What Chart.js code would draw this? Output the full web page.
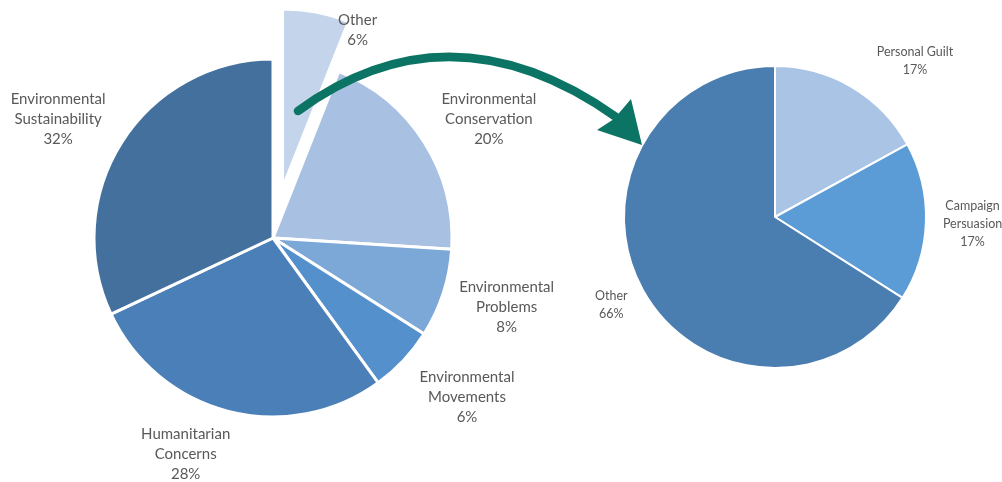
<!DOCTYPE html>
<html>
<head>
<meta charset="utf-8">
<script src="https://cdn.jsdelivr.net/npm/chart.js@4"></script>
<style>
  html, body { margin: 0; padding: 0; background: #fff; }
  #wrap { position: relative; width: 1002px; height: 482px; }
  #wrap canvas { position: absolute; left: 0; top: 0; }
</style>
</head>
<body>
<div id="wrap">
  <canvas id="mainPie" width="1002" height="482"></canvas>
  <canvas id="otherPie" width="1002" height="482"></canvas>
</div>
<script>
// left pie: reasons
const mainCategories = [
  ['Other'],
  ['Environmental', 'Conservation'],
  ['Environmental', 'Problems'],
  ['Environmental', 'Movements'],
  ['Humanitarian', 'Concerns'],
  ['Environmental', 'Sustainability']
];
const mainValues = [6, 20, 8, 6, 28, 32];
const mainColors = ['#c3d4eb', '#a8c1e3', '#7ca8d8', '#5390cc', '#4a80b7', '#43709d'];

// right pie: breakdown of "Other"
const otherCategories = [
  ['Personal Guilt'],
  ['Campaign', 'Persuasion'],
  ['Other']
];
const otherValues = [17, 17, 66];
const otherColors = ['#aac4e5', '#5b9bd6', '#4a7db0'];

// pulls a slice straight out along its middle angle (keeps its radius)
const explodeSlice = {
  id: 'explodeSlice',
  afterUpdate(chart, args, opts) {
    if (!opts.distances) return;
    chart.getDatasetMeta(0).data.forEach((arc, i) => {
      const d = opts.distances[i] || 0;
      if (!d) return;
      const mid = (arc.startAngle + arc.endAngle) / 2;
      arc.x += Math.cos(mid) * d;
      arc.y += Math.sin(mid) * d;
    });
  }
};

// draws "name / xx%" outside each slice
const outsideLabels = {
  id: 'outsideLabels',
  afterDatasetsDraw(chart, args, opts) {
    const ctx = chart.ctx;
    const meta = chart.getDatasetMeta(0);
    const values = chart.data.datasets[0].data;
    const total = values.reduce((a, b) => a + b, 0);
    ctx.save();
    ctx.font = opts.font;
    ctx.fillStyle = opts.color;
    ctx.textAlign = 'center';
    ctx.textBaseline = 'middle';
    meta.data.forEach((arc, i) => {
      const p = arc.getProps(['x', 'y', 'startAngle', 'endAngle', 'outerRadius'], true);
      const mid = (p.startAngle + p.endAngle) / 2;
      const dx = Math.cos(mid), dy = Math.sin(mid);
      const lines = [].concat(chart.data.labels[i], Math.round(values[i] / total * 100) + '%');
      const w = Math.max(...lines.map(l => ctx.measureText(l).width));
      const h = lines.length * opts.lineHeight;
      const nudge = (opts.nudge && opts.nudge[i]) || [0, 0];
      const dist = p.outerRadius + opts.pad;
      const cx = p.x + dx * dist + dx * w / 2 + nudge[0];
      const cy = p.y + dy * dist + dy * h / 2 + nudge[1];
      lines.forEach((l, k) => {
        ctx.fillText(l, cx, cy - h / 2 + opts.lineHeight * (k + 0.5));
      });
    });
    ctx.restore();
  }
};

// curved green arrow from the "Other" slice to the second pie
const linkArrow = {
  id: 'linkArrow',
  afterDraw(chart) {
    const ctx = chart.ctx;
    ctx.save();
    ctx.strokeStyle = '#0b7464';
    ctx.fillStyle = '#0b7464';
    ctx.lineWidth = 8.5;
    ctx.lineCap = 'round';
    ctx.beginPath();
    ctx.moveTo(298, 111);
    ctx.quadraticCurveTo(450, 0, 616, 117);
    ctx.stroke();
    ctx.beginPath();
    ctx.moveTo(631, 99);
    ctx.lineTo(642, 145);
    ctx.lineTo(597, 130);
    ctx.lineTo(614, 119);
    ctx.closePath();
    ctx.fill();
    ctx.restore();
  }
};

new Chart(document.getElementById('mainPie'), {
  type: 'pie',
  data: {
    labels: mainCategories,
    datasets: [{
      data: mainValues,
      backgroundColor: mainColors,
      borderColor: '#ffffff',
      borderWidth: 3,
      radius: 179
    }]
  },
  options: {
    responsive: false,
    animation: false,
    layout: { padding: { left: 0, right: 456, top: 0, bottom: 6 } },
    plugins: {
      legend: { display: false },
      tooltip: { enabled: false },
      explodeSlice: { distances: [51, 0, 0, 0, 0, 0] },
      outsideLabels: {
        font: '15px Lato, "Open Sans", sans-serif',
        color: '#595959',
        lineHeight: 20,
        pad: 15,
        nudge: [[35, 52], [12, 1], [4, 0], [18, 6], [-28, -1], [-11, 1]]
      }
    }
  },
  plugins: [explodeSlice, outsideLabels]
});

new Chart(document.getElementById('otherPie'), {
  type: 'pie',
  data: {
    labels: otherCategories,
    datasets: [{
      data: otherValues,
      backgroundColor: otherColors,
      borderColor: '#ffffff',
      borderWidth: 2,
      radius: 151
    }]
  },
  options: {
    responsive: false,
    animation: false,
    layout: { padding: { left: 625, right: 77, top: 67, bottom: 115 } },
    plugins: {
      legend: { display: false },
      tooltip: { enabled: false },
      outsideLabels: {
        font: '12.5px Lato, "Open Sans", sans-serif',
        color: '#595959',
        lineHeight: 18,
        pad: 15,
        nudge: [[36, 2], [2, 1], [-4, -1]]
      }
    }
  },
  plugins: [outsideLabels, linkArrow]
});
</script>
</body>
</html>
